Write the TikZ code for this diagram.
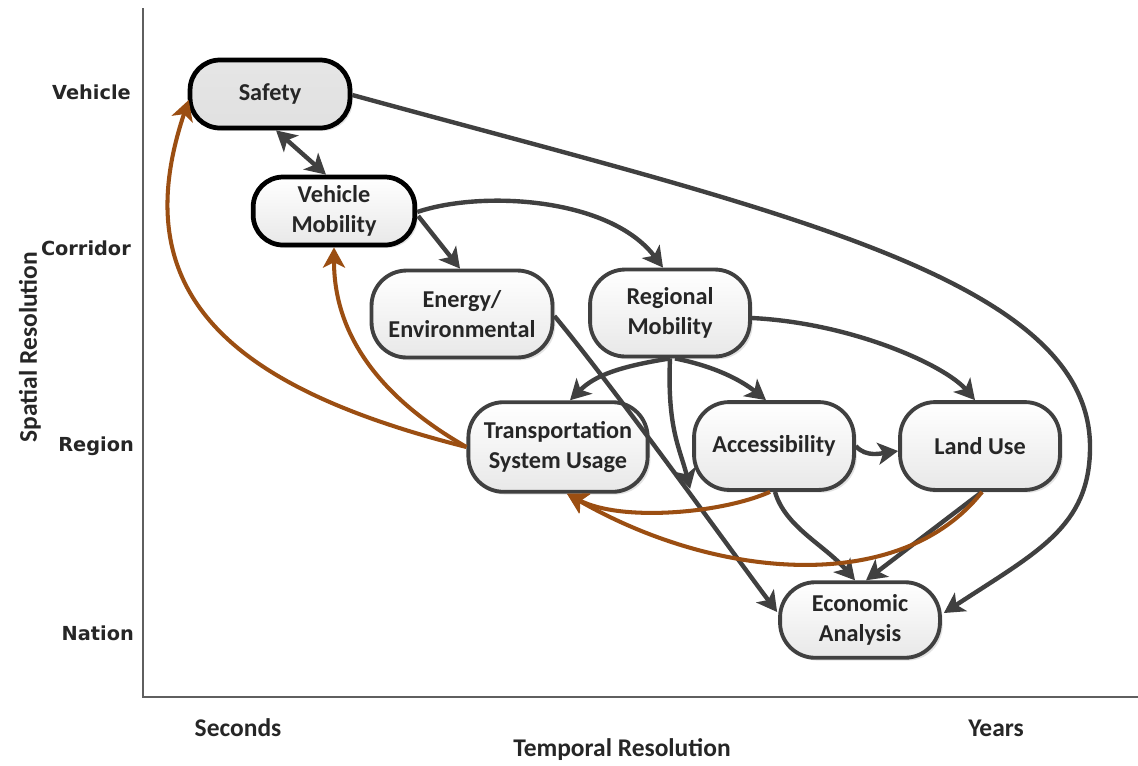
\documentclass[tikz,border=0pt]{standalone}
\usepackage{fontspec}
\setmainfont{Carlito}
\newfontfamily\levelfont{DejaVu Sans}
\usetikzlibrary{arrows.meta,calc,shadows}
\definecolor{edgegray}{RGB}{64,64,64}
\definecolor{feedback}{RGB}{155,78,18}
\definecolor{inktext}{RGB}{38,38,38}
\definecolor{axisgray}{RGB}{95,95,95}

\begin{document}
\begin{tikzpicture}[x=0.02cm,y=-0.02cm,
  >={Stealth[length=11.5pt,width=12.5pt,inset=3pt]},
  box/.style={rectangle, rounded corners=20pt, draw=edgegray, line width=2.2pt,
    inner sep=0pt, align=center, top color=white, bottom color=black!9,
    text=inktext, font=\bfseries\fontsize{13.8}{17}\selectfont,
    drop shadow={shadow xshift=1.6pt, shadow yshift=-1.6pt, opacity=0.22}},
  keybox/.style={box, draw=black, line width=2.7pt, rounded corners=17pt},
  link/.style={draw=edgegray, line width=2.5pt, ->},
  twoway/.style={draw=edgegray, line width=2.5pt, <->},
  feed/.style={draw=feedback, line width=2.3pt, ->},
  level/.style={anchor=east, text=inktext, font=\levelfont\bfseries\fontsize{11}{13}\selectfont},
  axistitle/.style={text=inktext, font=\bfseries\fontsize{14.5}{17}\selectfont},
]
% canvas
\fill[white] (0,0) rectangle (1138,765);
\useasboundingbox (0,0) rectangle (1138,765);

% axes
\coordinate (ytop) at (143,8);
\coordinate (origin) at (143,697);
\coordinate (xend) at (1138,697);
\draw[axisgray, line width=1.2pt] (ytop) -- (origin) -- (xend);

% axis labels
\node[level] (lvehicle) at (137,92) {Vehicle};
\node[level] (lcorridor) at (137,248) {Corridor};
\node[level] (lregion) at (140,446) {Region};
\node[level] (lnation) at (140,633) {Nation};
\node[axistitle, rotate=90] (spatial) at (30,347) {Spatial Resolution};
\node[axistitle] (seconds) at (238,728) {Seconds};
\node[axistitle] (years) at (996,728) {Years};
\node[axistitle] (temporal) at (622,750) {Temporal Resolution};

% models
\node[keybox, minimum width=91pt, minimum height=38.7pt,
      top color=black!10, bottom color=black!12] (safety) at (270,94) {Safety};
\node[keybox, minimum width=92pt, minimum height=38.7pt] (vmob) at (334,211) {Vehicle\\Mobility};
\node[box, minimum width=103pt, minimum height=49.5pt] (energy) at (462,314) {Energy/\\Environmental};
\node[box, minimum width=91pt, minimum height=49.5pt] (rmob) at (670,313) {Regional\\Mobility};
\node[box, minimum width=102pt, minimum height=51pt] (tsu) at (558,447) {Transportation\\System Usage};
\node[box, minimum width=91pt, minimum height=50pt] (access) at (774,446) {Accessibility};
\node[box, minimum width=91pt, minimum height=50pt] (land) at (980,446) {Land Use};
\node[box, minimum width=91pt, minimum height=43pt] (econ) at (860,620) {Economic\\Analysis};

% data flow
\draw[twoway] ($(safety.south)+(6,0)$) -- ($(vmob.north)+(-8,0)$);
\coordinate (swing) at (1090,447);
\draw[link] ($(safety.east)+(0,1)$) .. controls +(420,115) and +(0,-170) .. (swing)
  .. controls +(0,80) and +(93,-61) .. ($(econ.east)+(2,-7)$);
\draw[link] ($(vmob.east)+(1,5)$) -- ($(energy.north)+(-2,0)$);
\draw[link] ($(vmob.east)+(0,1)$) .. controls +(65,-22) and +(-53,-70) .. ($(rmob.north)+(-7,0)$);
\draw[link] ($(energy.east)+(0,2)$) .. controls +(60,72) and +(-45,-60) .. ($(econ.west)+(-1,-8)$);
\draw[link] (rmob.south) .. controls +(-50,8) and +(25,-25) .. ($(tsu.north)+(12,0)$);
\draw[link] ($(rmob.south)+(5,0)$) .. controls +(40,8) and +(-25,-20) .. ($(access.north)+(-8,0)$);
\draw[link] (rmob.south) .. controls +(-3,70) and +(-10,-40) .. ($(access.south west)+(-2,-3)$);
\draw[link] ($(rmob.east)+(0,5)$) .. controls +(100,5) and +(-30,-35) .. ($(land.north)+(-5,0)$);
\draw[link] (access.east) .. controls +(10,12) and +(-15,2) .. ($(land.west)+(0,5)$);
\draw[link] ($(access.south)+(1,0)$) .. controls +(10,35) and +(-30,-35) .. ($(econ.north)+(-5,0)$);
\draw[link] ($(land.south)+(2,0)$) -- ($(econ.north)+(6,0)$);

% feedback
\draw[feed] (tsu.west) .. controls +(-242,-61) and +(-64,190) .. ($(safety.west)+(1,6)$);
\draw[feed] (tsu.west) .. controls +(-70,-40) and +(0,100) .. (vmob.south);
\draw[feed] ($(access.south)+(-4,0)$) .. controls +(-50,22) and +(53,28) .. ($(tsu.south)+(9,0)$);
\draw[feed] ($(land.south)+(2,0)$) .. controls +(-80,102) and +(153,88) .. ($(tsu.south)+(9,0)$);
\end{tikzpicture}
\end{document}
